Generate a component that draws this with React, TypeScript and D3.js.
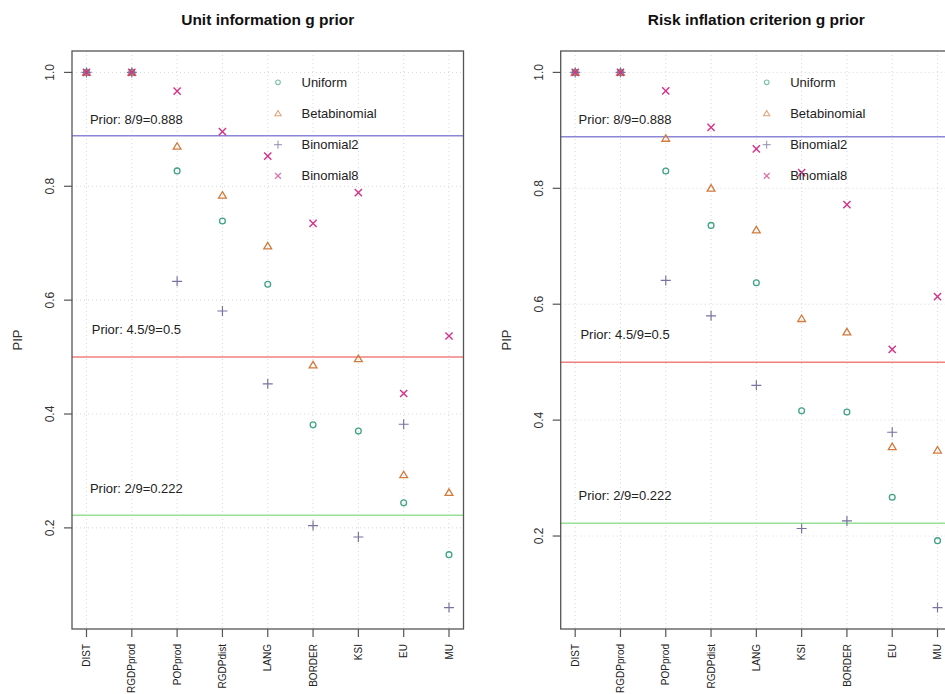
import React from "react";
import * as d3 from "d3";

// ---------- data ----------
const categoriesUnit = ["DIST", "RGDPprod", "POPprod", "RGDPdist", "LANG", "BORDER", "KSI", "EU", "MU"];
const categoriesRic = ["DIST", "RGDPprod", "POPprod", "RGDPdist", "LANG", "KSI", "BORDER", "EU", "MU"];

const unitUniform = [1, 1, 0.827, 0.739, 0.628, 0.381, 0.37, 0.244, 0.153];
const unitBetabinomial = [1, 1, 0.87, 0.784, 0.695, 0.486, 0.497, 0.293, 0.262];
const unitBinomial2 = [1, 1, 0.633, 0.581, 0.453, 0.204, 0.184, 0.382, 0.06];
const unitBinomial8 = [1, 1, 0.967, 0.896, 0.853, 0.735, 0.789, 0.436, 0.537];

const ricUniform = [1, 1, 0.83, 0.736, 0.637, 0.416, 0.414, 0.267, 0.192];
const ricBetabinomial = [1, 1, 0.886, 0.8, 0.728, 0.575, 0.552, 0.354, 0.348];
const ricBinomial2 = [1, 1, 0.641, 0.58, 0.46, 0.213, 0.226, 0.379, 0.0765];
const ricBinomial8 = [1, 1, 0.968, 0.905, 0.868, 0.827, 0.772, 0.522, 0.613];

const seriesNames = ["Uniform", "Betabinomial", "Binomial2", "Binomial8"];
const priorValues = [8 / 9, 0.5, 2 / 9];
const priorLabels = ["Prior: 8/9=0.888", "Prior: 4.5/9=0.5", "Prior: 2/9=0.222"];
const priorLabelY = [0.918, 0.548, 0.27];
const priorLabelX = 2.1;
const yTicks = [0.2, 0.4, 0.6, 0.8, 1.0];
const yTickLabels = ["0.2", "0.4", "0.6", "0.8", "1.0"];

// ---------- styles ----------
const FONT = "'Liberation Sans', Arial, Helvetica, sans-serif";
const seriesColors = ["#3fa386", "#d27b3e", "#77739f", "#d2338a"];
const legendColors = ["#7cc2aa", "#e0a47a", "#8f8caf", "#e070aa"];
const priorColors = ["#8a86d8", "#f08080", "#98e098"];
const shapes = ["circle", "triangle", "plus", "cross"];

function Marker({ shape, x, y, color, s = 1, sw = 1.3 }: any) {
  if (shape === "circle") {
    return <circle cx={x} cy={y} r={2.9 * s} fill="none" stroke={color} strokeWidth={sw} />;
  }
  if (shape === "triangle") {
    const h = 3.7 * s;
    const p = d3.path();
    p.moveTo(x, y - h);
    p.lineTo(x + h * 1.05, y + h * 0.75);
    p.lineTo(x - h * 1.05, y + h * 0.75);
    p.closePath();
    return <path d={p.toString()} fill="none" stroke={color} strokeWidth={sw} />;
  }
  if (shape === "plus") {
    const a = 5 * s;
    return (
      <path d={`M${x - a},${y}H${x + a}M${x},${y - a}V${y + a}`} stroke={color} strokeWidth={sw * 0.9} fill="none" />
    );
  }
  const a = 3.6 * s;
  return (
    <path
      d={`M${x - a},${y - a}L${x + a},${y + a}M${x - a},${y + a}L${x + a},${y - a}`}
      stroke={color}
      strokeWidth={sw * 1.1}
      fill="none"
    />
  );
}

function Panel({ title, categories, series, x0, x1, y0, y1 }: any) {
  const n = categories.length;
  const xs = d3.scaleLinear().domain([1 - 0.04 * (n - 1), n + 0.04 * (n - 1)]).range([x0, x1]);
  const all = series.flat();
  const mn = d3.min(all) as number;
  const mx = d3.max(all) as number;
  const r = mx - mn;
  const ys = d3.scaleLinear().domain([mn - 0.04 * r, mx + 0.04 * r]).range([y1, y0]);
  const idx = d3.range(1, n + 1);
  const cx = (x0 + x1) / 2;
  const cy = (y0 + y1) / 2;
  return (
    <g fontFamily={FONT}>
      <text x={cx} y={25} textAnchor="middle" fontWeight="bold" fontSize={15.5} fill="#111">
        {title}
      </text>
      {/* grid */}
      {idx.map((i) => (
        <line key={"gx" + i} x1={xs(i)} x2={xs(i)} y1={y0} y2={y1} stroke="#d6d6d6" strokeDasharray="1,3" />
      ))}
      {yTicks.map((t) => (
        <line key={"gy" + t} x1={x0} x2={x1} y1={ys(t)} y2={ys(t)} stroke="#d6d6d6" strokeDasharray="1,3" />
      ))}
      {/* prior lines */}
      {priorValues.map((v, k) => (
        <line key={"pl" + k} x1={x0} x2={x1} y1={ys(v)} y2={ys(v)} stroke={priorColors[k]} strokeWidth={1.5} />
      ))}
      {priorLabels.map((lab, k) => (
        <text
          key={"pt" + k}
          x={xs(priorLabelX)}
          y={ys(priorLabelY[k])}
          textAnchor="middle"
          dominantBaseline="central"
          fontSize={13}
          fill="#222"
        >
          {lab}
        </text>
      ))}
      {/* points */}
      {series.map((vals: number[], si: number) =>
        vals.map((v, i) => (
          <Marker key={"m" + si + "-" + i} shape={shapes[si]} x={xs(i + 1)} y={ys(v)} color={seriesColors[si]} />
        ))
      )}
      {/* legend */}
      {seriesNames.map((name, k) => {
        const ly = y0 + 31.3 + k * 31.2;
        const lx = x0 + 206;
        return (
          <g key={"lg" + k}>
            <Marker shape={shapes[k]} x={lx} y={ly} color={legendColors[k]} s={0.8} sw={1.1} />
            <text x={lx + 23.5} y={ly} dominantBaseline="central" fontSize={13} fill="#222">
              {name}
            </text>
          </g>
        );
      })}
      {/* box */}
      <rect x={x0} y={y0} width={x1 - x0} height={y1 - y0} fill="none" stroke="#555" strokeWidth={1.3} />
      {/* y axis */}
      {yTicks.map((t, k) => (
        <g key={"yt" + k}>
          <line x1={x0 - 8} x2={x0} y1={ys(t)} y2={ys(t)} stroke="#555" strokeWidth={1.2} />
          <text
            transform={`translate(${x0 - 18},${ys(t)}) rotate(-90)`}
            textAnchor="middle"
            fontSize={12}
            fill="#333"
          >
            {yTickLabels[k]}
          </text>
        </g>
      ))}
      <text transform={`translate(${x0 - 50},${cy}) rotate(-90)`} textAnchor="middle" fontSize={13} fill="#333">
        PIP
      </text>
      {/* x axis */}
      {categories.map((c: string, i: number) => (
        <g key={"xt" + i}>
          <line x1={xs(i + 1)} x2={xs(i + 1)} y1={y1} y2={y1 + 8} stroke="#555" strokeWidth={1.2} />
          <text
            transform={`translate(${xs(i + 1) + 3.6},${y1 + 15}) rotate(-90)`}
            textAnchor="end"
            fontSize={10}
            fill="#222"
          >
            {c}
          </text>
        </g>
      ))}
    </g>
  );
}

export default function App() {
  return (
    <div style={{ position: "fixed", left: 0, top: 0 }}>
      <svg width={945} height={694} style={{ display: "block", background: "#fff" }}>
        <rect width={945} height={694} fill="#fff" />
        <Panel
          title="Unit information g prior"
          categories={categoriesUnit}
          series={[unitUniform, unitBetabinomial, unitBinomial2, unitBinomial8]}
          x0={72}
          x1={463.5}
          y0={51}
          y1={629}
        />
        <Panel
          title="Risk inflation criterion g prior"
          categories={categoriesRic}
          series={[ricUniform, ricBetabinomial, ricBinomial2, ricBinomial8]}
          x0={560.7}
          x1={952}
          y0={51}
          y1={629}
        />
      </svg>
    </div>
  );
}
